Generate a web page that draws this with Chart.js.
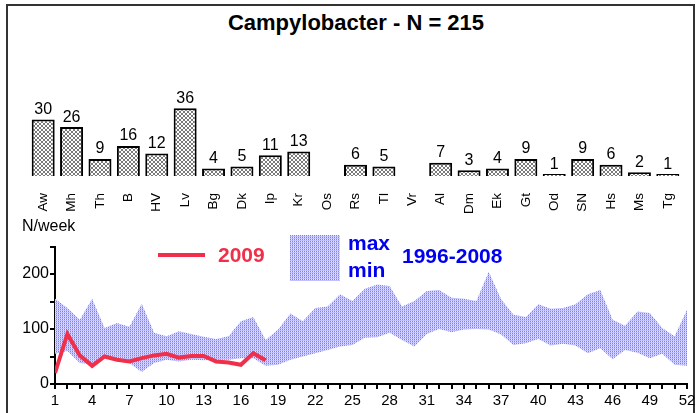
<!DOCTYPE html>
<html>
<head>
<meta charset="utf-8">
<script src="https://cdn.jsdelivr.net/npm/chart.js@4.4.1/dist/chart.umd.min.js"></script>
<style>
  body { margin: 0; width: 699px; height: 413px; overflow: hidden; background: #fff;
         font-family: "Liberation Sans", Arial, sans-serif; position: relative; }
  .abs { position: absolute; white-space: nowrap; }
  #frame { left: 6px; top: 4px; width: 685px; height: 430px; border: 2px solid #333; }
  #title { left: 0; width: 712px; top: 12px; text-align: center; font-size: 22px; font-weight: bold; line-height: 22px; }
  .leg { font-size: 21px; font-weight: bold; line-height: 21px; }
  canvas { position: absolute; left: 0; }
</style>
</head>
<body>
<div id="frame" class="abs"></div>
<div id="title" class="abs">Campylobacter - N = 215</div>
<canvas id="bars" width="699" height="220" style="top:0"></canvas>
<canvas id="weekly" width="699" height="198" style="top:215px"></canvas>
<div class="abs" style="left:22px;top:218px;font-size:16px;line-height:16px">N/week</div>
<div class="abs" style="left:158px;top:253px;width:47px;height:4px;background:#f0304a"></div>
<div class="abs leg" style="left:218px;top:244px;color:#f0304a">2009</div>
<div id="bandKey" class="abs" style="left:290px;top:235px;width:50px;height:46px"></div>
<div class="abs leg" style="left:348px;top:232px;color:#0000f0">max</div>
<div class="abs leg" style="left:348px;top:259px;color:#0000f0">min</div>
<div class="abs leg" style="left:402px;top:245px;color:#0000f0">1996-2008</div>
<script>
const FONT = '"Liberation Sans", Arial, sans-serif';

// cases per district
const districts = ['Aw','Mh','Th','B','HV','Lv','Bg','Dk','Ip','Kr','Os','Rs','Tl','Vr','Al','Dm','Ek','Gt','Od','SN','Hs','Ms','Tg'];
const cases = [30,26,9,16,12,36,4,5,11,13,0,6,5,0,7,3,4,9,1,9,6,2,1];

// weekly counts
const weeks = [1,2,3,4,5,6,7,8,9,10,11,12,13,14,15,16,17,18,19,20,21,22,23,24,25,26,
               27,28,29,30,31,32,33,34,35,36,37,38,39,40,41,42,43,44,45,46,47,48,49,50,51,52];
const max9608 = [155,138,117,155,102,111,104,146,93,87,96,91,86,82,87,114,122,80,99,128,114,138,141,163,151,173,
                 181,178,141,151,169,171,157,155,151,204,154,126,122,145,137,138,145,163,171,117,106,132,129,102,87,135];
const min9608 = [55,60,38,36,47,45,38,22,38,44,41,44,43,44,44,47,47,33,35,44,50,56,62,68,71,84,
                 85,93,80,68,91,100,94,99,100,99,90,71,74,82,70,73,70,56,65,45,62,57,47,55,35,33];
const y2009 = [20,91,52,33,50,44,41,47,52,55,48,51,51,41,39,35,56,43];

function hatch() {
  const c = document.createElement('canvas');
  c.width = c.height = 4;
  const g = c.getContext('2d');
  g.fillStyle = '#fff'; g.fillRect(0, 0, 4, 4);
  g.fillStyle = '#7a7a7a';
  for (let i = 0; i < 4; i++) { g.fillRect(i, i, 1, 1); g.fillRect(3 - i, i, 1, 1); }
  return g.createPattern(c, 'repeat');
}

function dotsCanvas() {
  const c = document.createElement('canvas');
  c.width = c.height = 2;
  const g = c.getContext('2d');
  g.fillStyle = '#c0c0ff'; g.fillRect(0, 0, 2, 2);
  g.fillStyle = '#7c7cff'; g.fillRect(0, 0, 1, 1);
  g.fillStyle = '#e6e6ff'; g.fillRect(1, 0, 1, 1);
  return c;
}
const dotsC = dotsCanvas();
const dots = dotsC.getContext('2d').createPattern(dotsC, 'repeat');
document.getElementById('bandKey').style.background = 'url(' + dotsC.toDataURL() + ')';

const valueLabels = {
  id: 'valueLabels',
  afterDatasetsDraw(chart) {
    const ctx = chart.ctx;
    ctx.save();
    ctx.font = '16px ' + FONT;
    ctx.fillStyle = '#000';
    ctx.textAlign = 'center';
    ctx.textBaseline = 'bottom';
    chart.getDatasetMeta(0).data.forEach((bar, i) => {
      if (!cases[i]) return;
      ctx.fillText(String(cases[i]), bar.x, bar.y - 2);
    });
    ctx.restore();
  }
};

new Chart(document.getElementById('bars'), {
  type: 'bar',
  data: {
    labels: districts,
    datasets: [{
      data: cases,
      backgroundColor: hatch(),
      borderColor: '#000',
      borderWidth: c => c.raw ? 2 : 0,
      barPercentage: 0.81,
      categoryPercentage: 1
    }]
  },
  options: {
    responsive: false,
    animation: false,
    layout: { padding: { left: 29, right: 17, top: 82, bottom: 4 } },
    plugins: { legend: { display: false }, tooltip: { enabled: false } },
    scales: {
      x: {
        grid: { display: false },
        border: { display: false },
        ticks: { color: '#000', font: { family: FONT, size: 13.5 }, minRotation: 90, maxRotation: 90, padding: 9, autoSkip: false },
        afterFit: s => { s.height = 40; }
      },
      y: { display: false, min: 0, max: 50 }
    }
  },
  plugins: [valueLabels]
});

const pts = arr => arr.map((v, i) => ({ x: weeks[i], y: v }));

new Chart(document.getElementById('weekly'), {
  type: 'line',
  data: {
    datasets: [
      { label: '2009', data: pts(y2009), borderColor: '#f0304a', borderWidth: 4, pointRadius: 0, fill: false, tension: 0 },
      { label: 'max', data: pts(max9608), borderWidth: 0, borderColor: 'rgba(0,0,0,0)', pointRadius: 0, fill: '+1', backgroundColor: dots },
      { label: 'min', data: pts(min9608), borderWidth: 0, borderColor: 'rgba(0,0,0,0)', pointRadius: 0, fill: false }
    ]
  },
  options: {
    responsive: false,
    animation: false,
    layout: { padding: { left: 0, right: 12, top: 31.5, bottom: 0 } },
    plugins: { legend: { display: false }, tooltip: { enabled: false } },
    scales: {
      x: {
        type: 'linear', min: 1, max: 52,
        ticks: { stepSize: 1, autoSkip: false, maxRotation: 0, color: '#000', padding: 3,
                 font: { family: FONT, size: 15 }, callback: v => (v - 1) % 3 === 0 ? v : '' },
        grid: { drawOnChartArea: false, tickLength: 5, color: '#000', lineWidth: 2 },
        border: { color: '#000', width: 2 },
        afterFit: s => { s.height = 29; }
      },
      y: {
        min: 0, max: 250,
        ticks: { stepSize: 50, color: '#000', padding: 1,
                 font: { family: FONT, size: 16 }, callback: v => v % 100 === 0 ? v : '' },
        grid: { drawOnChartArea: false, tickLength: 5, color: '#000', lineWidth: 2 },
        border: { color: '#000', width: 2 },
        afterFit: s => { s.width = 55; }
      }
    }
  }
});
</script>
</body>
</html>
